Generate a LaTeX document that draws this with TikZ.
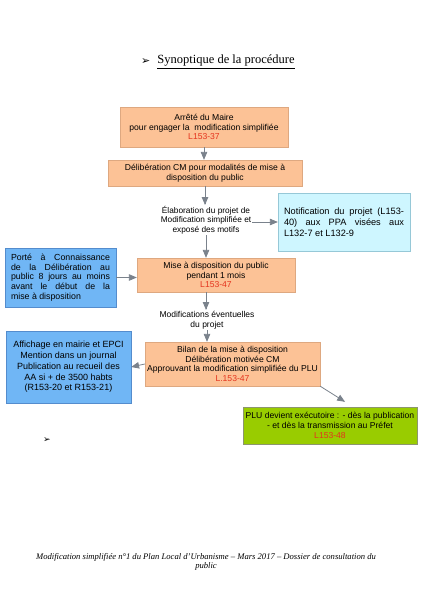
\documentclass[tikz,border=0pt]{standalone}
\usepackage{fontspec}
\setmainfont{Liberation Sans}
\newfontfamily\timesfont{Liberation Serif}
\newfontfamily\dingfont{DejaVu Sans}
\usepackage{tikz}
\usetikzlibrary{arrows,positioning,calc}
\definecolor{boxorange}{RGB}{252,194,150}
\definecolor{edgeorange}{RGB}{222,168,128}
\definecolor{boxblue}{RGB}{112,182,245}
\definecolor{edgeblue}{RGB}{84,140,205}
\definecolor{boxcyan}{RGB}{206,246,255}
\definecolor{edgecyan}{RGB}{150,200,215}
\definecolor{boxgreen}{RGB}{153,204,0}
\definecolor{edgegreen}{RGB}{140,150,110}
\definecolor{refred}{RGB}{228,52,30}
\definecolor{arrowgray}{RGB}{122,130,140}

\begin{document}
\begin{tikzpicture}[x=1pt,y=-1pt,
etape/.style={draw=edgeorange,fill=boxorange,align=center,inner sep=1pt,font=\fontsize{8.6}{9.7}\selectfont},
info/.style={draw=edgeblue,fill=boxblue,inner sep=1pt},
note/.style={align=center,inner sep=1pt,font=\fontsize{8.3}{9.4}\selectfont},
fleche/.style={draw=arrowgray,line width=0.8pt,-triangle 45}]
\useasboundingbox (0,0) rectangle (424,600);
\node[font=\timesfont\fontsize{12.5}{14}\selectfont] (titre) at (226,62) {\underline{Synoptique de la procédure}};
\node[font=\dingfont\fontsize{11}{12}\selectfont,left=0pt of titre] (puce) {➢};
\node[etape,minimum width=168,minimum height=40] (arrete) at (204,127) {Arrêté du Maire\\pour engager la\ \ modification simplifiée\\\textcolor{refred}{L153-37}};
\node[etape,minimum width=194,minimum height=26] (delib) at (205,173) {Délibération CM pour modalités de mise à\\disposition du public};
\node[note] (elab) at (206,220) {Élaboration du projet de\\Modification simplifiée et\\exposé des motifs};
\node[draw=edgecyan,fill=boxcyan,minimum width=132,minimum height=58,text width=120,inner xsep=6pt,align=justify,font=\fontsize{9.2}{11.2}\selectfont] (notif) at (344,222) {Notification du projet (L153-\linebreak 40) aux PPA visées aux\linebreak L132-7 et L132-9};
\node[etape,minimum width=158,minimum height=34] (mise) at (216,275) {Mise à disposition du public\\pendant 1 mois\\\textcolor{refred}{L153-47}};
\node[info,minimum width=111,minimum height=59,text width=99,inner xsep=6pt,align=justify,font=\fontsize{8.8}{9.6}\selectfont] (porte) at (60.5,277.5) {Porté à Connaissance\linebreak de la Délibération au\linebreak public 8 jours au moins\linebreak avant le début de la\linebreak mise à disposition};
\node[note,font=\fontsize{8.5}{9.8}\selectfont] (modif) at (207,320) {Modifications éventuelles\\du projet};
\node[etape,minimum width=175,minimum height=44] (bilan) at (232.5,364) {Bilan de la mise à disposition\\Délibération motivée CM\\Approuvant la modification simplifiée du PLU\\\textcolor{refred}{L.153-47}};
\node[info,minimum width=125,minimum height=72,align=center,font=\fontsize{9}{10.8}\selectfont] (affich) at (68.5,367) {Affichage en mairie et EPCI\\Mention dans un journal\\Publication au recueil des\\AA si + de 3500 habts\\(R153-20 et R153-21)};
\node[draw=edgegreen,fill=boxgreen,minimum width=174,minimum height=37,align=center,inner sep=1pt,font=\fontsize{8.6}{9.7}\selectfont] (plu) at (330,425.5) {PLU devient exécutoire : - dès la publication\\- et dès la transmission au Préfet\\\textcolor{refred}{L153-48}};
\node[font=\dingfont\fontsize{9}{10}\selectfont] (puce2) at (47,440) {➢};
\node[align=center,font=\timesfont\itshape\fontsize{8.6}{9.6}\selectfont] (pied) at (206,562) {Modification simplifiée n°1 du Plan Local d’Urbanisme – Mars 2017 – Dossier de consultation du\\public};
\draw[fleche] (arrete.south) -- (arrete.south |- delib.north);
\draw[fleche] (delib.south) -- (delib.south |- elab.north);
\draw[fleche] ([yshift=-2pt]elab.east) -- ([yshift=-2pt]elab.east -| notif.west);
\draw[fleche] (elab.south) -- (elab.south |- mise.north);
\draw[fleche] (porte.east) -- (porte.east -| mise.west);
\draw[fleche] (elab.south |- mise.south) -- (elab.south |- modif.north);
\draw[fleche] (modif.south) -- (modif.south |- bilan.north);
\draw[fleche] (bilan.west) -- (affich.east);
\draw[fleche] (bilan.south east) -- ($(plu.north)+(15,-5)$);
\end{tikzpicture}
\end{document}
